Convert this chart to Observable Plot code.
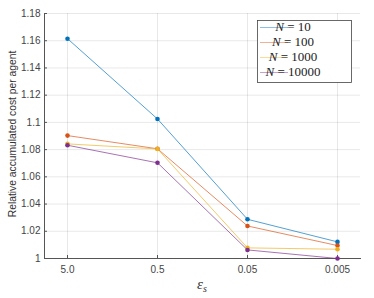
<!DOCTYPE html>
<html><head><meta charset="utf-8">
<script src="https://cdn.jsdelivr.net/npm/d3@7"></script>
<script src="https://cdn.jsdelivr.net/npm/@observablehq/plot@0.6"></script>
<style>body{margin:0;background:#fff;} #chart svg{display:block;}</style>
</head><body><div id="chart"></div>
<script>
const categories = ["5.0", "0.5", "0.05", "0.005"];
const nValues = ["10", "100", "1000", "10000"];
const n10 = [1.1615, 1.1025, 1.0288, 1.0122];
const n100 = [1.0903, 1.0806, 1.0239, 1.0095];
const n1000 = [1.0842, 1.0805, 1.0078, 1.0068];
const n10000 = [1.0832, 1.0703, 1.0063, 1.0000];
const yTicks = [1, 1.02, 1.04, 1.06, 1.08, 1.1, 1.12, 1.14, 1.16, 1.18];
const colors = ["#0072BD", "#D95319", "#EDB120", "#7E2F8E"];
const yLabel = "Relative accumulated cost per agent";

const seriesValues = [n10, n100, n1000, n10000];
const data = [];
seriesValues.forEach((vals, s) => vals.forEach((v, i) => data.push({eps: categories[i], value: v, series: nValues[s]})));

const chart = Plot.plot({
  width: 374, height: 298,
  marginLeft: 44, marginRight: 14, marginTop: 13, marginBottom: 40,
  style: {fontFamily: "Liberation Sans, Arial, sans-serif", fontSize: "10px", color: "#333", background: "#fff"},
  x: {type: "point", domain: categories, padding: 0.25, label: null},
  y: {domain: [1, 1.18], ticks: yTicks, label: null},
  color: {domain: nValues, range: colors},
  marks: [
    Plot.gridX(categories, {stroke: "#000", strokeOpacity: 0.09}),
    Plot.gridY(yTicks, {stroke: "#000", strokeOpacity: 0.09}),
    Plot.axisX({tickSize: 0, tickPadding: 7, fill: "#444", fontSize: 10, label: null}),
    Plot.axisX({tickSize: -3, text: null, stroke: "#555", label: null}),
    Plot.axisY(yTicks, {tickSize: 0, tickPadding: 4, fill: "#444", fontSize: 10, label: null, tickFormat: d => String(+d.toFixed(2))}),
    Plot.axisY(yTicks, {tickSize: -3, text: null, stroke: "#555", label: null}),
    Plot.frame({anchor: "left", stroke: "#555"}),
    Plot.frame({anchor: "bottom", stroke: "#555"}),
    Plot.line(data, {x: "eps", y: "value", z: "series", stroke: "series", strokeWidth: 0.8, strokeOpacity: 0.85}),
    Plot.dot(data, {x: "eps", y: "value", fill: "series", r: 2.3})
  ]
});
document.getElementById("chart").appendChild(chart);

const svg = d3.select(chart);
// y label
svg.append("text")
  .attr("transform", "translate(13,134) rotate(-90)")
  .attr("text-anchor", "middle").attr("dominant-baseline", "middle")
  .attr("font-family", "Liberation Sans, Arial, sans-serif").attr("font-size", 10.3).attr("fill", "#333")
  .text(yLabel);
// x label
const xl = svg.append("text")
  .attr("x", 202).attr("y", 289).attr("text-anchor", "middle")
  .attr("font-family", "Liberation Serif, Times New Roman, serif").attr("font-style", "italic")
  .attr("font-size", 15).attr("fill", "#333");
xl.append("tspan").text("ε");
xl.append("tspan").attr("font-size", 10).attr("dy", 3).text("s");

// legend
const lg = svg.append("g");
lg.append("rect").attr("x", 257.5).attr("y", 20.5).attr("width", 94).attr("height", 62)
  .attr("fill", "#fff").attr("stroke", "#444").attr("stroke-width", 0.8);
nValues.forEach((n, i) => {
  const cy = 27.5 + i * 15;
  lg.append("line").attr("x1", 260).attr("x2", 288).attr("y1", cy).attr("y2", cy)
    .attr("stroke", colors[i]).attr("stroke-width", 1).attr("stroke-opacity", 0.45);
  const t = lg.append("text").attr("x", 293).attr("y", cy).attr("dominant-baseline", "middle")
    .attr("font-family", "Liberation Serif, Times New Roman, serif").attr("font-size", 13).attr("fill", "#222");
  t.append("tspan").attr("font-style", "italic").text("N");
  t.append("tspan").text(" = " + n);
});
</script></body></html>
